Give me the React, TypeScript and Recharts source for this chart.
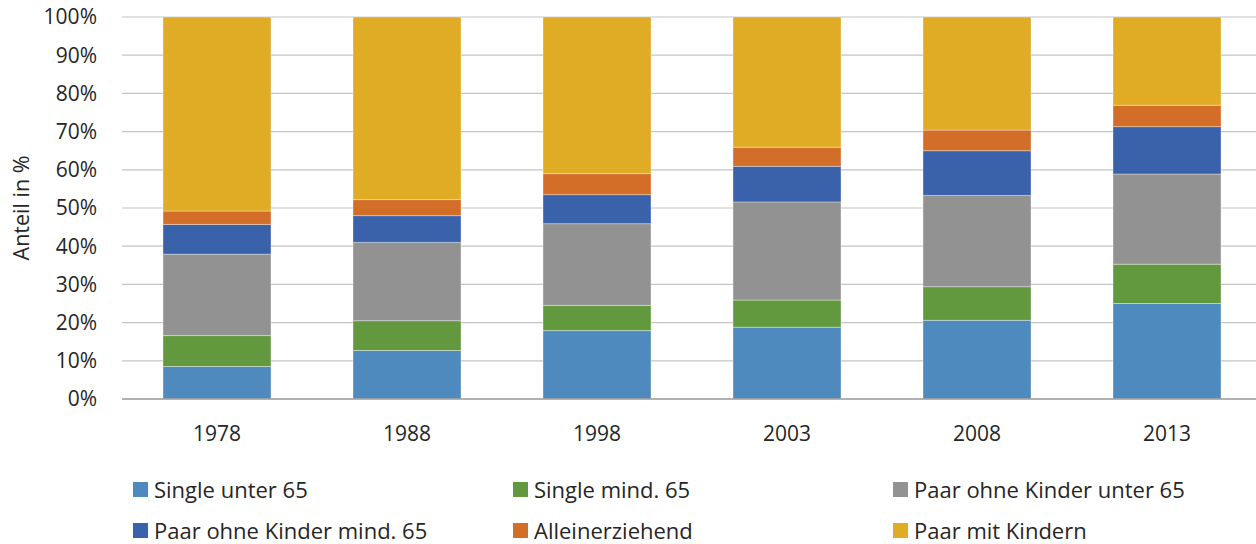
import React from 'react';
import { BarChart, Bar, XAxis, YAxis, CartesianGrid, Legend } from 'recharts';

const years = ['1978', '1988', '1998', '2003', '2008', '2013'];
const singleUnter65 = [8.5, 12.7, 17.9, 18.8, 20.6, 25.0];
const singleMind65 = [8.1, 7.8, 6.6, 7.1, 8.8, 10.3];
const paarOhneUnter65 = [21.3, 20.5, 21.4, 25.7, 23.9, 23.6];
const paarOhneMind65 = [7.8, 7.0, 7.6, 9.3, 11.7, 12.4];
const alleinerziehend = [3.5, 4.2, 5.5, 5.0, 5.4, 5.6];
const paarMitKindern = [50.8, 47.8, 41.0, 34.1, 29.6, 23.1];
const yTicks = [0, 10, 20, 30, 40, 50, 60, 70, 80, 90, 100];

const series = [
  { key: 's1', name: 'Single unter 65', color: '#4E8ABE', values: singleUnter65 },
  { key: 's2', name: 'Single mind. 65', color: '#62993F', values: singleMind65 },
  { key: 's3', name: 'Paar ohne Kinder unter 65', color: '#929292', values: paarOhneUnter65 },
  { key: 's4', name: 'Paar ohne Kinder mind. 65', color: '#3A62AA', values: paarOhneMind65 },
  { key: 's5', name: 'Alleinerziehend', color: '#D36E28', values: alleinerziehend },
  { key: 's6', name: 'Paar mit Kindern', color: '#E0AB25', values: paarMitKindern },
];

const data = years.map((year, i) => {
  const row: Record<string, string | number> = { year };
  series.forEach((s) => {
    row[s.key] = s.values[i];
  });
  return row;
});

const FONT = '"Open Sans", sans-serif';
const TEXT = '#262626';

const AxisTitle = (props: any) => {
  const vb = props.viewBox || {};
  const cy = (vb.y ?? 17) + (vb.height ?? 382) / 2;
  return (
    <text
      x={20}
      y={cy}
      transform={`rotate(-90, 20, ${cy})`}
      textAnchor="middle"
      dominantBaseline="central"
      fontFamily={FONT}
      fontSize={21.5}
      fill={TEXT}
    >
      Anteil in %
    </text>
  );
};

const LegendContent = () => (
  <div style={{ position: 'relative', width: 1256, height: 80, fontFamily: FONT }}>
    {series.map((s, i) => (
      <div
        key={s.key}
        style={{
          position: 'absolute',
          left: 133 + (i % 3) * 380,
          top: Math.floor(i / 3) * 41,
          height: 20,
          display: 'flex',
          alignItems: 'center',
          whiteSpace: 'nowrap',
        }}
      >
        <span style={{ display: 'inline-block', width: 15, height: 15, background: s.color }} />
        <span style={{ marginLeft: 6, fontSize: 22, color: TEXT, lineHeight: '20px' }}>{s.name}</span>
      </div>
    ))}
  </div>
);

export default function App() {
  return (
    <div style={{ position: 'absolute', left: 0, top: 0, width: 1256, height: 544, overflow: 'hidden', background: '#fff' }}>
      <BarChart
        width={1264}
        height={544}
        data={data}
        margin={{ top: 17, right: 2, left: 0, bottom: 115 }}
        barCategoryGap={41}
      >
        <CartesianGrid vertical={false} stroke="#C4C4C4" strokeWidth={1.2} />
        <XAxis
          dataKey="year"
          height={30}
          tickLine={false}
          tickSize={0}
          tickMargin={27}
          axisLine={{ stroke: '#A0A0A0', strokeWidth: 1.3 }}
          tick={{ fontFamily: FONT, fontSize: 21, fill: TEXT }}
        />
        <YAxis
          width={122}
          domain={[0, 100]}
          ticks={yTicks}
          interval={0}
          tickFormatter={(v: number) => `${v}%`}
          tickLine={false}
          tickSize={0}
          tickMargin={25}
          axisLine={false}
          tick={{ fontFamily: FONT, fontSize: 21, fill: TEXT }}
          label={<AxisTitle />}
        />
        <Legend
          layout="vertical"
          align="center"
          verticalAlign="middle"
          content={<LegendContent />}
          wrapperStyle={{ left: 0, top: 479, width: 1256, height: 80 }}
        />
        {series.map((s) => (
          <Bar
            key={s.key}
            dataKey={s.key}
            name={s.name}
            stackId="a"
            fill={s.color}
            stroke="#ffffff"
            strokeOpacity={0.45}
            strokeWidth={0.8}
            isAnimationActive={false}
          />
        ))}
      </BarChart>
    </div>
  );
}
